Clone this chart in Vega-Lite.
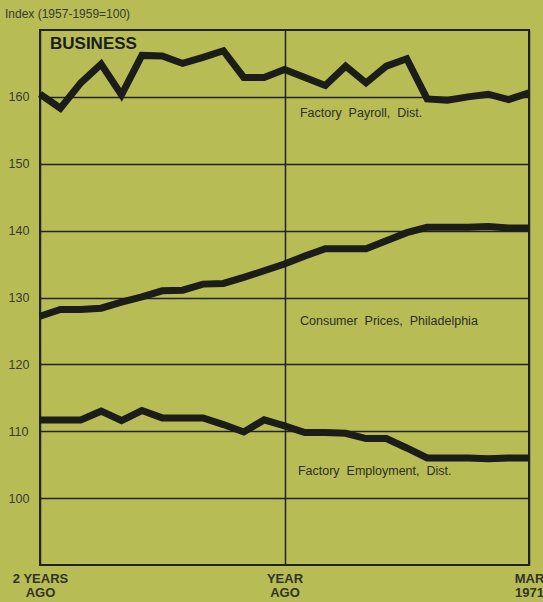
{
  "$schema": "https://vega.github.io/schema/vega-lite/v6.json",
  "width": 489,
  "height": 535,
  "autosize": {"type": "none"},
  "padding": {"left": 40, "top": 30, "right": 14, "bottom": 37},
  "background": "#b7bc55",
  "title": {
    "text": "Index (1957-1959=100)",
    "anchor": "start",
    "frame": "group",
    "dx": -35,
    "offset": 9,
    "fontSize": 12,
    "fontWeight": "normal",
    "color": "#3a3a30",
    "font": "Liberation Sans"
  },
  "config": {
    "font": "Liberation Sans",
    "view": {"stroke": "#222", "strokeWidth": 2, "fill": "#b7bc55"}
  },
  "datasets": {
    "series": [
      {"series": "Factory Payroll, Dist.", "month": 0, "value": 160.4},
      {"series": "Factory Payroll, Dist.", "month": 1, "value": 158.3},
      {"series": "Factory Payroll, Dist.", "month": 2, "value": 162.1},
      {"series": "Factory Payroll, Dist.", "month": 3, "value": 164.9},
      {"series": "Factory Payroll, Dist.", "month": 4, "value": 160.3},
      {"series": "Factory Payroll, Dist.", "month": 5, "value": 166.2},
      {"series": "Factory Payroll, Dist.", "month": 6, "value": 166.1},
      {"series": "Factory Payroll, Dist.", "month": 7, "value": 165.0},
      {"series": "Factory Payroll, Dist.", "month": 8, "value": 165.9},
      {"series": "Factory Payroll, Dist.", "month": 9, "value": 166.9},
      {"series": "Factory Payroll, Dist.", "month": 10, "value": 162.9},
      {"series": "Factory Payroll, Dist.", "month": 11, "value": 162.9},
      {"series": "Factory Payroll, Dist.", "month": 12, "value": 164.1},
      {"series": "Factory Payroll, Dist.", "month": 13, "value": 162.9},
      {"series": "Factory Payroll, Dist.", "month": 14, "value": 161.7},
      {"series": "Factory Payroll, Dist.", "month": 15, "value": 164.6},
      {"series": "Factory Payroll, Dist.", "month": 16, "value": 162.1},
      {"series": "Factory Payroll, Dist.", "month": 17, "value": 164.6},
      {"series": "Factory Payroll, Dist.", "month": 18, "value": 165.7},
      {"series": "Factory Payroll, Dist.", "month": 19, "value": 159.7},
      {"series": "Factory Payroll, Dist.", "month": 20, "value": 159.5},
      {"series": "Factory Payroll, Dist.", "month": 21, "value": 160.0},
      {"series": "Factory Payroll, Dist.", "month": 22, "value": 160.4},
      {"series": "Factory Payroll, Dist.", "month": 23, "value": 159.6},
      {"series": "Factory Payroll, Dist.", "month": 24, "value": 160.6},
      {"series": "Consumer Prices, Philadelphia", "month": 0, "value": 127.2},
      {"series": "Consumer Prices, Philadelphia", "month": 1, "value": 128.2},
      {"series": "Consumer Prices, Philadelphia", "month": 2, "value": 128.2},
      {"series": "Consumer Prices, Philadelphia", "month": 3, "value": 128.4},
      {"series": "Consumer Prices, Philadelphia", "month": 4, "value": 129.3},
      {"series": "Consumer Prices, Philadelphia", "month": 5, "value": 130.1},
      {"series": "Consumer Prices, Philadelphia", "month": 6, "value": 131.0},
      {"series": "Consumer Prices, Philadelphia", "month": 7, "value": 131.1},
      {"series": "Consumer Prices, Philadelphia", "month": 8, "value": 132.0},
      {"series": "Consumer Prices, Philadelphia", "month": 9, "value": 132.1},
      {"series": "Consumer Prices, Philadelphia", "month": 10, "value": 133.0},
      {"series": "Consumer Prices, Philadelphia", "month": 11, "value": 134.0},
      {"series": "Consumer Prices, Philadelphia", "month": 12, "value": 135.0},
      {"series": "Consumer Prices, Philadelphia", "month": 13, "value": 136.2},
      {"series": "Consumer Prices, Philadelphia", "month": 14, "value": 137.3},
      {"series": "Consumer Prices, Philadelphia", "month": 15, "value": 137.3},
      {"series": "Consumer Prices, Philadelphia", "month": 16, "value": 137.3},
      {"series": "Consumer Prices, Philadelphia", "month": 17, "value": 138.5},
      {"series": "Consumer Prices, Philadelphia", "month": 18, "value": 139.7},
      {"series": "Consumer Prices, Philadelphia", "month": 19, "value": 140.5},
      {"series": "Consumer Prices, Philadelphia", "month": 20, "value": 140.5},
      {"series": "Consumer Prices, Philadelphia", "month": 21, "value": 140.5},
      {"series": "Consumer Prices, Philadelphia", "month": 22, "value": 140.6},
      {"series": "Consumer Prices, Philadelphia", "month": 23, "value": 140.4},
      {"series": "Consumer Prices, Philadelphia", "month": 24, "value": 140.4},
      {"series": "Factory Employment, Dist.", "month": 0, "value": 111.7},
      {"series": "Factory Employment, Dist.", "month": 1, "value": 111.7},
      {"series": "Factory Employment, Dist.", "month": 2, "value": 111.7},
      {"series": "Factory Employment, Dist.", "month": 3, "value": 113.0},
      {"series": "Factory Employment, Dist.", "month": 4, "value": 111.6},
      {"series": "Factory Employment, Dist.", "month": 5, "value": 113.1},
      {"series": "Factory Employment, Dist.", "month": 6, "value": 112.0},
      {"series": "Factory Employment, Dist.", "month": 7, "value": 112.0},
      {"series": "Factory Employment, Dist.", "month": 8, "value": 112.0},
      {"series": "Factory Employment, Dist.", "month": 9, "value": 111.0},
      {"series": "Factory Employment, Dist.", "month": 10, "value": 109.9},
      {"series": "Factory Employment, Dist.", "month": 11, "value": 111.7},
      {"series": "Factory Employment, Dist.", "month": 12, "value": 110.8},
      {"series": "Factory Employment, Dist.", "month": 13, "value": 109.8},
      {"series": "Factory Employment, Dist.", "month": 14, "value": 109.8},
      {"series": "Factory Employment, Dist.", "month": 15, "value": 109.7},
      {"series": "Factory Employment, Dist.", "month": 16, "value": 108.9},
      {"series": "Factory Employment, Dist.", "month": 17, "value": 108.9},
      {"series": "Factory Employment, Dist.", "month": 18, "value": 107.5},
      {"series": "Factory Employment, Dist.", "month": 19, "value": 106.0},
      {"series": "Factory Employment, Dist.", "month": 20, "value": 106.0},
      {"series": "Factory Employment, Dist.", "month": 21, "value": 106.0},
      {"series": "Factory Employment, Dist.", "month": 22, "value": 105.9},
      {"series": "Factory Employment, Dist.", "month": 23, "value": 106.0},
      {"series": "Factory Employment, Dist.", "month": 24, "value": 106.0}
    ],
    "labels": [
      {"text": "Factory\u00a0\u00a0Payroll,\u00a0\u00a0Dist.", "month": 12.76, "value": 157.6},
      {"text": "Consumer\u00a0\u00a0Prices,\u00a0\u00a0Philadelphia", "month": 12.76, "value": 126.5},
      {"text": "Factory\u00a0\u00a0Employment,\u00a0\u00a0Dist.", "month": 12.66, "value": 104.1}
    ],
    "heading": [
      {"text": "BUSINESS", "month": 0.49, "value": 167.9}
    ]
  },
  "encoding": {
    "x": {
      "field": "month",
      "type": "quantitative",
      "scale": {"domain": [0, 24], "nice": false, "zero": false},
      "axis": {
        "values": [0, 12, 24],
        "title": null,
        "domain": false,
        "ticks": false,
        "grid": true,
        "gridColor": "#222",
        "gridWidth": 1.5,
        "gridOpacity": 1,
        "labelExpr": "datum.value == 0 ? ['2 YEARS', '\u00a0\u00a0\u00a0AGO'] : datum.value == 12 ? ['YEAR', 'AGO'] : ['MAR', '1971']",
        "labelFontSize": 13,
        "labelFontWeight": "bold",
        "labelColor": "#333328",
        "labelBaseline": "top",
        "labelPadding": 7,
        "labelLineHeight": 14,
        "labelFlush": false,
        "labelOverlap": false,
        "labelBound": false,
        "encode": {
          "labels": {
            "update": {
              "align": {"signal": "datum.value == 0 ? 'left' : datum.value == 24 ? 'left' : 'center'"},
              "dx": {"signal": "datum.value == 0 ? -25 : datum.value == 24 ? -21 : 0"}
            }
          }
        }
      }
    },
    "y": {
      "field": "value",
      "type": "quantitative",
      "scale": {"domain": [90, 170], "nice": false, "zero": false},
      "axis": {
        "values": [100, 110, 120, 130, 140, 150, 160],
        "title": null,
        "domain": false,
        "ticks": false,
        "grid": true,
        "gridColor": "#222",
        "gridWidth": 1.5,
        "gridOpacity": 1,
        "labelAlign": "left",
        "labelBaseline": "middle",
        "labelPadding": 32,
        "labelFontSize": 12.5,
        "labelColor": "#3a3a2e"
      }
    }
  },
  "layer": [
    {
      "data": {"name": "series"},
      "mark": {"type": "line", "color": "#1c1c18", "strokeWidth": 7, "strokeJoin": "miter"},
      "encoding": {"detail": {"field": "series"}}
    },
    {
      "data": {"name": "labels"},
      "mark": {"type": "text", "align": "left", "baseline": "middle", "fontSize": 12.5, "color": "#2e2e26"},
      "encoding": {"text": {"field": "text"}}
    },
    {
      "data": {"name": "heading"},
      "mark": {"type": "text", "align": "left", "baseline": "middle", "fontSize": 17, "fontWeight": "bold", "color": "#1c1c18"},
      "encoding": {"text": {"field": "text"}}
    }
  ]
}
